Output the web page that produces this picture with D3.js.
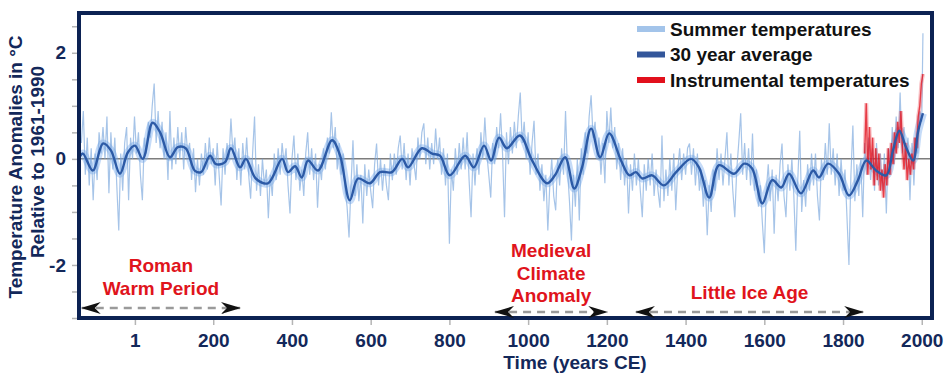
<!DOCTYPE html>
<html>
<head>
<meta charset="utf-8">
<script src="https://cdn.jsdelivr.net/npm/d3@7"></script>
<style>
  html, body { margin: 0; padding: 0; background: #fff; }
  svg { display: block; font-family: "Liberation Sans", Arial, sans-serif; }
</style>
</head>
<body>
<svg id="chart" width="947" height="380"></svg>
<script>
// summer temperature anomalies, one value every 5 years from 135 BCE
const summerStart = -135;
const summerStep = 5;
const summerValues = [
  0.3, 0.9, -0.3, 0.4, -0.5, 0.2, -0.78, 0.1, -0.4, 0.5, 0.1, 0.6, 0.0, 0.8, -0.65, 0.5, -0.2, 0.4, -0.5, -1.35,
  0.1, -0.6, 0.3, 0.6, -0.78, 0.4, 0.0, 0.8, 0.1, 0.5, -0.3, -0.78, 0.4, 0.1, 0.7, 0.4, 1.0, 1.42, 0.3, 0.9,
  0.2, 0.7, 0.0, 0.5, -0.4, 0.9, -0.2, 0.4, -0.1, 0.6, 0.0, 0.5, -0.2, 0.6, 0.1, 0.3, -0.4, 0.2, -0.63, 0.0,
  -0.5, 0.1, -0.3, 0.3, -0.2, 0.4, -0.1, 0.2, -0.5, 0.3, -0.3, -0.88, 0.2, -0.3, 0.3, 0.0, 0.76, 0.1, 0.4, -0.4,
  0.2, -0.5, 0.3, -0.2, 0.4, -0.3, -0.75, 0.1, 0.8, -0.6, -0.1, -0.7, 0.0, -0.5, -0.2, -1.12, -0.3, -0.7, 0.1, -0.4,
  0.2, -0.3, 0.3, -0.1, 0.2, -0.5, -1.03, 0.0, 0.44, -0.4, 0.1, -0.6, -0.2, -0.7, 0.1, 0.5, -0.3, 0.2, -0.4, 0.1,
  -0.92, -0.1, -0.4, 0.2, -0.2, 0.4, 0.1, 0.88, 0.2, 0.6, -0.2, 0.3, -0.3, 0.1, -0.6, -0.9, -1.48, -0.5, 0.35, -0.7,
  -0.1, -0.8, -0.3, -1.22, -0.1, -0.7, -0.2, -0.6, -0.93, -0.1, 0.29, -0.5, 0.0, -0.6, -0.1, -0.5, -0.78, 0.1, -0.4, 0.1,
  -0.3, 0.2, 0.44, -0.2, 0.3, -0.4, 0.1, -0.5, 0.2, -0.1, -0.4, 0.4, 0.0, 0.5, 0.67, -0.1, 0.4, -0.2, 0.3, -0.1,
  0.57, 0.0, 0.4, -0.3, 0.2, -0.5, 0.1, -1.6, -0.2, -0.6, 0.2, -0.3, 0.3, -0.2, 0.4, -0.2, 0.5, -0.4, -1.1, 0.1,
  -0.5, 0.2, -0.3, 0.5, 0.0, 0.78, 0.1, -0.3, -0.73, 0.3, -0.1, 0.6, 0.2, 0.86, 0.1, -1.1, 0.5, -0.1, 0.6, 0.1,
  0.7, 0.2, 0.8, 1.25, 0.3, 0.7, 0.0, 0.5, -0.3, 0.3, 0.72, -0.3, 0.1, -0.6, -0.1, -0.8, -0.3, -1.35, -0.5, 0.0,
  -0.7, -0.97, 0.0, -0.5, 0.2, -0.3, 0.9, -0.2, -0.8, -1.54, -0.3, -0.9, 0.0, -1.16, 0.2, -0.3, 0.5, 0.1, 0.8, 1.2,
  0.4, 0.7, 0.0, 0.4, -0.3, 0.3, -0.46, 0.9, 0.3, 0.97, 0.2, 0.6, -0.2, 0.3, -0.4, 0.2, -0.5, 0.0, -1.03, -0.1,
  -0.6, 0.1, -0.5, 0.0, -0.6, -1.1, -0.1, -0.6, 0.0, -0.5, 0.1, -0.7, -0.2, -0.6, -0.92, 0.44, -0.8, -0.2, -0.7, 0.0,
  -0.6, 0.1, -0.97, -0.2, 0.2, -0.4, 0.1, -0.3, 0.2, 0.29, -0.3, 0.2, -0.5, 0.1, -0.6, -0.2, -0.9, -0.4, -1.44, -0.5,
  -1.0, -0.2, -0.6, 0.2, -0.4, 0.1, -0.5, 0.0, 0.5, -0.5, 0.1, -0.6, -1.1, -0.2, 0.3, 0.86, -0.3, 0.3, -0.4, 0.2,
  -0.5, 0.48, -0.6, -0.2, -0.9, -0.5, -1.2, -1.78, -0.6, -0.1, -0.8, -0.2, -1.41, -0.3, -0.8, -0.1, 0.29, -0.7, -1.1, -0.1,
  -0.6, 0.0, -0.7, -1.73, -0.4, 0.53, -1.0, -0.4, -0.9, -0.1, -0.6, 0.1, -0.5, 0.1, -0.7, -1.16, 0.0, -0.4, 0.3, -0.3,
  0.67, -0.3, 0.2, -0.5, 0.1, -0.7, 0.0, -0.6, -0.2, -1.1, -2.0, -0.3, 0.63, -0.8, -0.1, -0.7, 0.0, -1.1, 0.3, -0.3,
  0.4, -0.4, 0.2, -0.6, 0.3, -0.5, 0.1, -0.6, 0.1, -1.03, 0.2, -0.3, 0.6, -0.1, 0.8, 0.2, 1.25, 0.1, 0.6, -0.2,
  0.4, -0.78, 0.3, -0.5, 0.4, 0.1, 0.9, 0.7
];
const summerLastYear = 2003;
const summerLastValue = 2.37;

// 30 year average
const avgYears = [-138, -131, -106, -80, -60, -37, -17, 1, 21, 46, 65, 90, 110, 130, 153, 169, 192, 207, 230, 245,
  268, 283, 308, 339, 375, 390, 408, 425, 441, 466, 502, 522, 547, 568, 598, 624, 654, 680, 695, 730,
  756, 776, 801, 840, 862, 888, 906, 926, 946, 979, 1010, 1048, 1068, 1094, 1117, 1137, 1160, 1183, 1206, 1236,
  1257, 1274, 1290, 1315, 1345, 1376, 1414, 1434, 1460, 1485, 1523, 1549, 1569, 1595, 1620, 1643, 1663, 1693, 1724, 1739,
  1762, 1790, 1815, 1838, 1859, 1884, 1910, 1927, 1943, 1960, 1978, 1991, 2003];
const avgValues = [0.05, 0.1, -0.22, 0.29, 0.16, -0.28, 0.12, 0.25, 0.0, 0.68, 0.5, 0.03, 0.22, 0.2, -0.22, -0.25, 0.06, -0.1, -0.06, 0.2,
  -0.16, 0.0, -0.37, -0.46, 0.0, -0.25, -0.14, -0.35, -0.03, -0.22, 0.35, 0.07, -0.78, -0.37, -0.46, -0.25, -0.25, 0.0, -0.16, 0.2,
  0.1, 0.06, -0.31, 0.06, -0.16, 0.25, -0.03, 0.4, 0.2, 0.44, -0.03, -0.46, -0.31, 0.03, -0.56, -0.16, 0.57, 0.03, 0.48, -0.03,
  -0.31, -0.25, -0.37, -0.31, -0.5, -0.25, 0.0, -0.16, -0.73, -0.12, -0.28, -0.09, -0.18, -0.84, -0.4, -0.54, -0.28, -0.65, -0.22, -0.35,
  -0.09, -0.28, -0.69, -0.4, -0.03, -0.22, -0.31, 0.16, 0.53, 0.22, -0.03, 0.53, 0.86];

// instrumental record
const instYears = [1855, 1859, 1863, 1867, 1871, 1875, 1879, 1883, 1887, 1891, 1895, 1899, 1903, 1907, 1911, 1915, 1919, 1923, 1927,
  1931, 1935, 1939, 1943, 1947, 1951, 1955, 1959, 1963, 1967, 1971, 1975, 1979, 1983, 1987, 1991, 1995, 1999, 2003];
const instValues = [0.1, 1.05, -0.3, 0.6, -0.2, 0.4, -0.5, 0.2, -0.4, 0.1, -0.6, -0.2, -0.73, -0.1, -0.5, 0.2, -0.3, 0.3, -0.1,
  0.5, 0.1, 0.7, 0.3, 0.9, 0.2, -0.2, 0.3, -0.4, 0.0, -0.3, 0.1, -0.2, 0.4, 0.2, 0.8, 1.0, 1.42, 1.6];

const xTicks = [1, 200, 400, 600, 800, 1000, 1200, 1400, 1600, 1800, 2000];
const yTicks = [-3, -2.5, -2, -1.5, -1, -0.5, 0, 0.5, 1, 1.5, 2, 2.5];
const yLabelled = [-2, 0, 2];

const legendLabels = ['Summer temperatures', '30 year average', 'Instrumental temperatures'];
const legendColors = ['#a3c4ea', '#33569a', '#e2101c'];

const periodNames = [['Roman', 'Warm Period'], ['Medieval', 'Climate', 'Anomaly'], ['Little Ice Age']];
const periodStart = [-134, 916, 1274];
const periodEnd = [268, 1201, 1851];

const margin = { top: 13, right: 15, bottom: 62, left: 79 };
const W = 947, H = 380;
const navy = '#13285a';
const fontSize = '19px';

const svg = d3.select('#chart');

const x = d3.scaleLinear().domain([-141, 2026]).range([margin.left, W - margin.right]);
const y = d3.scaleLinear().domain([-3, 2.75]).range([H - margin.bottom, margin.top]);

svg.append('defs').append('clipPath').attr('id', 'plot-clip')
  .append('rect')
  .attr('x', x.range()[0]).attr('y', y.range()[1])
  .attr('width', x.range()[1] - x.range()[0])
  .attr('height', y.range()[0] - y.range()[1]);

const plot = svg.append('g').attr('clip-path', 'url(#plot-clip)');

const summer = summerValues.map((v, i) => [summerStart + i * summerStep, v]);
summer.push([summerLastYear, summerLastValue]);
const avg = avgYears.map((yr, i) => [yr, avgValues[i]]);
const inst = instYears.map((yr, i) => [yr, instValues[i]]);

const line = d3.line().x(d => x(d[0])).y(d => y(d[1]));
const smooth = d3.line().x(d => x(d[0])).y(d => y(d[1])).curve(d3.curveCatmullRom.alpha(0.5));

// zero line
plot.append('line')
  .attr('x1', x.range()[0]).attr('x2', x.range()[1])
  .attr('y1', y(0)).attr('y2', y(0))
  .attr('stroke', '#7d7d7d').attr('stroke-width', 1.5);

// dense band around the average
plot.append('path').datum(avg)
  .attr('d', smooth)
  .attr('fill', 'none')
  .attr('stroke', '#6ea6ee')
  .attr('stroke-width', 8)
  .attr('stroke-opacity', 0.4)
  .attr('stroke-linejoin', 'round');

plot.append('path').datum(summer)
  .attr('d', line)
  .attr('fill', 'none')
  .attr('stroke', '#76a5dc')
  .attr('stroke-width', 1.2)
  .attr('stroke-opacity', 0.65);

plot.append('path').datum(inst)
  .attr('d', line)
  .attr('fill', 'none')
  .attr('stroke', '#e8303a')
  .attr('stroke-width', 4)
  .attr('stroke-opacity', 0.3);
plot.append('path').datum(inst)
  .attr('d', line)
  .attr('fill', 'none')
  .attr('stroke', '#e2101c')
  .attr('stroke-width', 1.4)
  .attr('stroke-opacity', 0.75);

plot.append('path').datum(avg)
  .attr('d', smooth)
  .attr('fill', 'none')
  .attr('stroke', '#2c5aa6')
  .attr('stroke-width', 2.4)
  .attr('stroke-linejoin', 'round');

// axes
const yAxis = svg.append('g')
  .attr('transform', `translate(${x.range()[0] - 2},0)`)
  .call(d3.axisLeft(y).tickValues(yTicks).tickSize(5).tickPadding(6)
    .tickFormat(d => yLabelled.includes(d) ? d : ''));

const xAxis = svg.append('g')
  .attr('transform', `translate(0,${y.range()[0] + 2})`)
  .call(d3.axisBottom(x).tickValues(xTicks).tickSize(5).tickPadding(9).tickFormat(d => d));

[xAxis, yAxis].forEach(ax => {
  ax.select('.domain').remove();
  ax.selectAll('.tick line').attr('stroke', '#b5b5b5').attr('stroke-width', 1.5);
  ax.selectAll('.tick text')
    .attr('fill', navy)
    .style('font-size', fontSize)
    .style('font-weight', 'bold')
    .style('font-family', '"Liberation Sans", Arial, sans-serif');
});

// frame
svg.append('rect')
  .attr('x', x.range()[0]).attr('y', y.range()[1])
  .attr('width', x.range()[1] - x.range()[0])
  .attr('height', y.range()[0] - y.range()[1])
  .attr('fill', 'none')
  .attr('stroke', '#0c2253')
  .attr('stroke-width', 4);

// axis titles
svg.append('text')
  .attr('x', 575).attr('y', 369)
  .attr('text-anchor', 'middle')
  .attr('fill', navy)
  .style('font-size', fontSize).style('font-weight', 'bold')
  .text('Time (years CE)');

const yTitle = svg.append('g').attr('fill', navy)
  .style('font-size', fontSize).style('font-weight', 'bold');
yTitle.append('text')
  .attr('transform', 'translate(22,167) rotate(-90)')
  .attr('text-anchor', 'middle')
  .text('Temperature Anomalies in °C');
yTitle.append('text')
  .attr('transform', 'translate(44,162) rotate(-90)')
  .attr('text-anchor', 'middle')
  .text('Relative to 1961-1990');

// legend
const legend = svg.append('g').attr('transform', 'translate(637,29)');
legendLabels.forEach((lab, i) => {
  const row = legend.append('g').attr('transform', `translate(0,${i * 25.5})`);
  row.append('line')
    .attr('x1', 0).attr('x2', 28).attr('y1', 0).attr('y2', 0)
    .attr('stroke', legendColors[i]).attr('stroke-width', 6);
  row.append('text')
    .attr('x', 33).attr('y', 6.5)
    .attr('fill', '#111')
    .style('font-size', fontSize).style('font-weight', 'bold')
    .text(lab);
});

// period annotations
const defs = svg.select('defs');
defs.append('marker')
  .attr('id', 'head')
  .attr('viewBox', '0 0 20 12')
  .attr('refX', 19).attr('refY', 6)
  .attr('markerWidth', 20).attr('markerHeight', 12)
  .attr('markerUnits', 'userSpaceOnUse')
  .attr('orient', 'auto-start-reverse')
  .append('path')
  .attr('d', 'M0,0 L20,6 L0,12 L6,6 Z')
  .attr('fill', '#111');

const arrowY = [308, 312, 312];
const firstLineY = [272, 257, 299];
periodNames.forEach((lines, i) => {
  const cx = (x(periodStart[i]) + x(periodEnd[i])) / 2;
  svg.append('line')
    .attr('x1', x(periodStart[i])).attr('x2', x(periodEnd[i]))
    .attr('y1', arrowY[i]).attr('y2', arrowY[i])
    .attr('stroke', '#9a9a9a')
    .attr('stroke-width', 2.5)
    .attr('stroke-dasharray', '8,6')
    .attr('marker-start', 'url(#head)')
    .attr('marker-end', 'url(#head)');
  const t = svg.append('text')
    .attr('text-anchor', 'middle')
    .attr('fill', '#e0141c')
    .style('font-size', fontSize).style('font-weight', 'bold');
  lines.forEach((ln, j) => {
    t.append('tspan').attr('x', cx).attr('y', firstLineY[i] + j * 22.5).text(ln);
  });
});
</script>
</body>
</html>
